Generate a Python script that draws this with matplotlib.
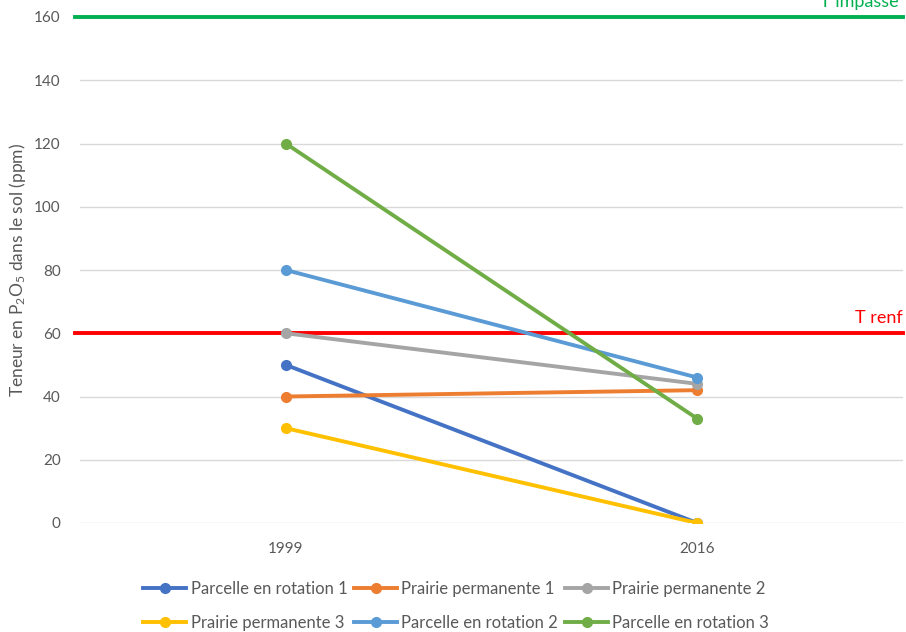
import matplotlib
matplotlib.use("Agg")
import matplotlib.pyplot as plt

# ---------------------------------------------------------------------
# Data
# ---------------------------------------------------------------------
YEARS = ["1999", "2016"]
SERIES_NAMES = [
    "Parcelle en rotation 1",
    "Prairie permanente 1",
    "Prairie permanente 2",
    "Prairie permanente 3",
    "Parcelle en rotation 2",
    "Parcelle en rotation 3",
]
ROTATION_1 = [50, 0]
PRAIRIE_1 = [40, 42]
PRAIRIE_2 = [60, 44]
PRAIRIE_3 = [30, 0]
ROTATION_2 = [80, 46]
ROTATION_3 = [120, 33]
SERIES_COLORS = ["#4472C4", "#ED7D31", "#A5A5A5", "#FFC000", "#5B9BD5", "#70AD47"]

T_RENF = 60
T_IMPASSE = 160
Y_TICKS = [0, 20, 40, 60, 80, 100, 120, 140, 160]

plt.rcParams["font.family"] = ["Lato", "DejaVu Sans"]
plt.rcParams["mathtext.fontset"] = "custom"
plt.rcParams["mathtext.rm"] = "Lato"
plt.rcParams["mathtext.it"] = "Lato:italic"

TEXT_GREY = "#595959"

fig = plt.figure(figsize=(9.06, 6.32), dpi=100)
ax = fig.add_axes([80 / 906, 109 / 632, 823 / 906, 506 / 632])

x = list(range(len(YEARS)))

# threshold lines, running a little past the plot area
ax.plot([-0.512, 1.5], [T_RENF, T_RENF], color="#FF0000", linewidth=2.8,
        clip_on=False, zorder=2)
ax.plot([-0.512, 1.5], [T_IMPASSE, T_IMPASSE], color="#00B050", linewidth=2.8,
        clip_on=False, zorder=2)
ax.text(1.5, T_RENF + 2.3, "T renf", color="#FF0000", fontsize=13,
        ha="right", va="bottom")
ax.text(1.49, T_IMPASSE + 2.3, "T impasse", color="#00B050", fontsize=13,
        ha="right", va="bottom", clip_on=False)

all_series = [ROTATION_1, PRAIRIE_1, PRAIRIE_2, PRAIRIE_3, ROTATION_2, ROTATION_3]
handles = []
for name, values, color in zip(SERIES_NAMES, all_series, SERIES_COLORS):
    (line,) = ax.plot(x, values, color=color, linewidth=2.8, marker="o",
                      markersize=7, label=name, zorder=3)
    handles.append(line)

ax.set_xlim(-0.5, 1.5)
ax.set_ylim(0, 160)
ax.set_xticks(x)
ax.set_xticklabels(YEARS)
ax.set_yticks(Y_TICKS)
ax.tick_params(axis="both", length=0, labelsize=11, labelcolor=TEXT_GREY)
ax.tick_params(axis="y", pad=14)
ax.tick_params(axis="x", pad=14)
ax.grid(axis="y", color="#D9D9D9", linewidth=1)
ax.set_axisbelow(True)
for spine in ax.spines.values():
    spine.set_visible(False)

ax.set_ylabel("Teneur en P$_2$O$_5$ dans le sol (ppm)", fontsize=12.5,
              color=TEXT_GREY, labelpad=4)

# legend is filled row by row in the reference
order = [0, 3, 1, 4, 2, 5]
ax.legend([handles[i] for i in order], [SERIES_NAMES[i] for i in order],
          loc="upper center", bbox_to_anchor=(0.457, -0.085), ncol=3,
          frameon=False, fontsize=12, handlelength=2.6, handletextpad=0.25,
          columnspacing=0.4, labelspacing=1.05, labelcolor=TEXT_GREY)

fig.savefig("out.png", dpi=100)
